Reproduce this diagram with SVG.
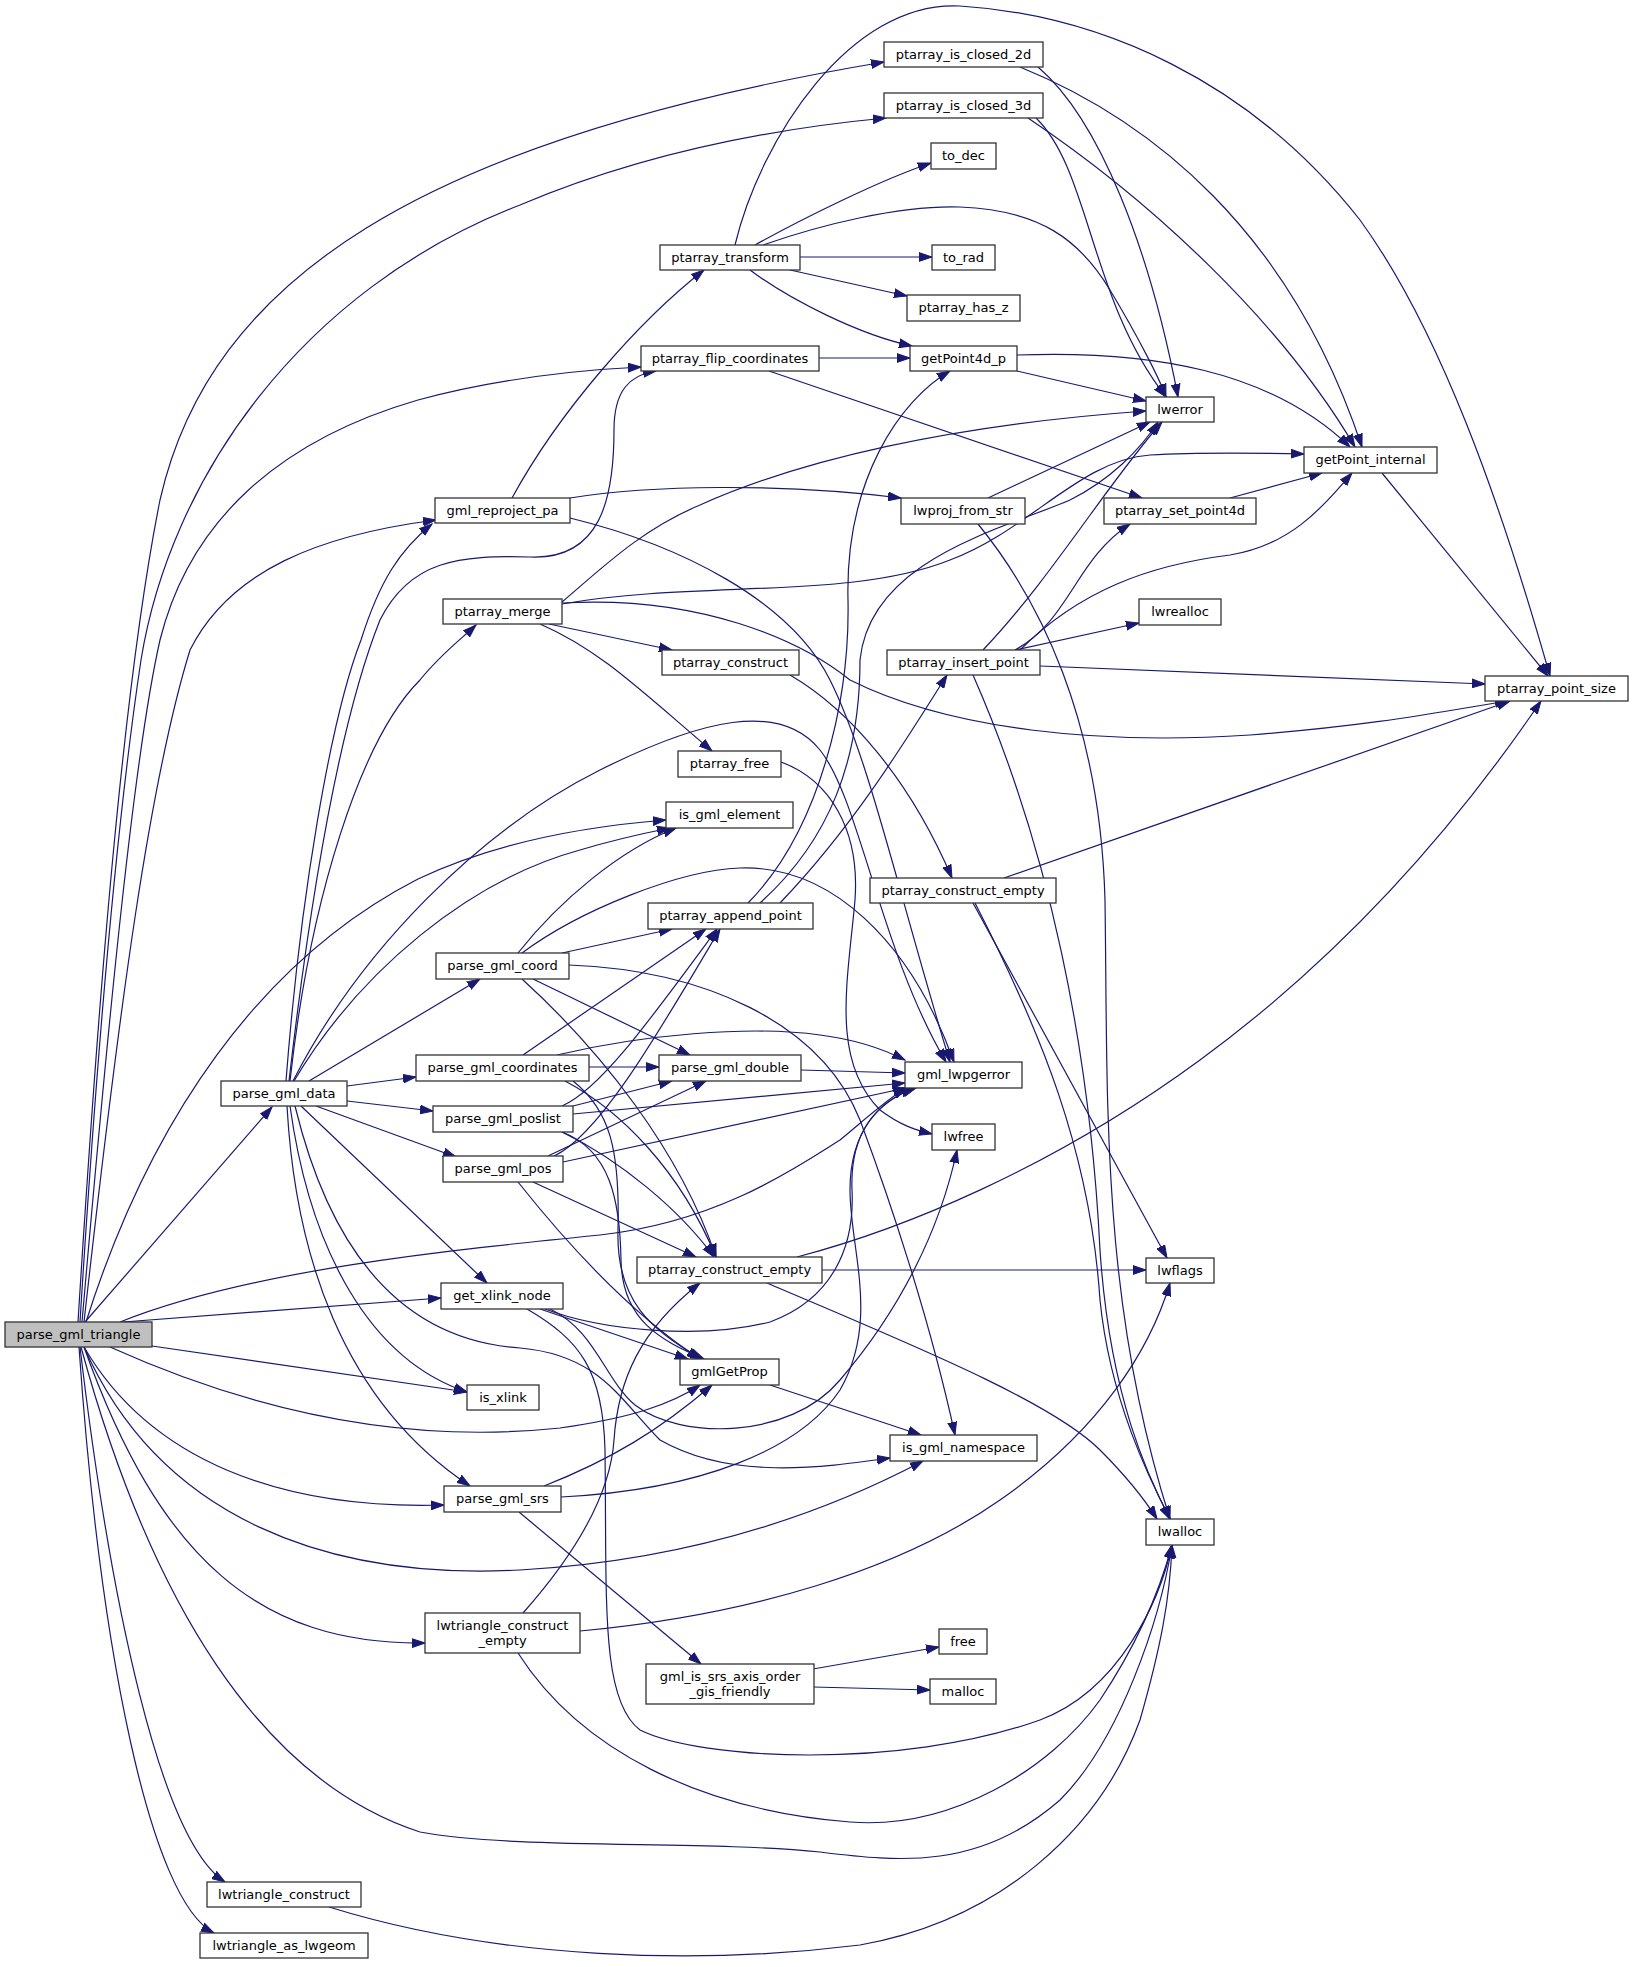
<svg xmlns="http://www.w3.org/2000/svg" width="1633" height="1967" viewBox="0 0 1633 1967">
<defs>
<style>
.e{fill:none;stroke:#191970;stroke-width:1.2;marker-end:url(#ah)}
.n rect{fill:#ffffff;stroke:#333333;stroke-width:1.3}
.n text{font-family:"DejaVu Sans","Liberation Sans",sans-serif;font-size:13px;fill:#000000;text-anchor:middle}
#n_root rect{fill:#bfbfbf}
</style>
<marker id="ah" markerUnits="userSpaceOnUse" markerWidth="14" markerHeight="10" viewBox="0 0 14 10" refX="13" refY="5" orient="auto"><path d="M0,0.6 L13,5 L0,9.4 z" fill="#191970" stroke="#191970" stroke-width="1"/></marker>
</defs>
<rect x="0" y="0" width="1633" height="1967" fill="#ffffff"/>
<g id="edges">
<path class="e" d="M78,1322 C95,1050 120,700 160,500 C210,280 420,140 884,62"/>
<path class="e" d="M80,1322 C100,1000 120,800 141,660 C170,480 300,290 520,205 C650,150 780,128 886,118"/>
<path class="e" d="M82,1322 C110,1000 135,750 160,640 C190,520 280,440 418,400 C500,378 580,370 641,367"/>
<path class="e" d="M84,1322 C120,1000 150,780 190,650 C230,570 320,535 436,520"/>
<path class="e" d="M86,1322 C150,1120 260,960 418,879 C500,840 590,826 666,820"/>
<path class="e" d="M85,1322 L272,1107"/>
<path class="e" d="M120,1322 C250,1270 450,1250 600,1235 C720,1222 800,1165 840,1140 C870,1115 890,1097 906,1088"/>
<path class="e" d="M123,1322 L441,1298"/>
<path class="e" d="M152,1346 L467,1392"/>
<path class="e" d="M110,1347 C250,1410 400,1445 560,1428 C630,1418 670,1405 700,1385"/>
<path class="e" d="M84,1347 C150,1460 280,1510 444,1505"/>
<path class="e" d="M84,1347 C160,1520 330,1580 520,1570 C700,1560 830,1510 923,1461"/>
<path class="e" d="M84,1347 C160,1560 260,1645 425,1643"/>
<path class="e" d="M81,1347 C150,1600 260,1780 420,1832 C520,1850 700,1840 820,1852 C900,1862 980,1870 1060,1800 C1120,1740 1160,1620 1172,1545"/>
<path class="e" d="M80,1347 C110,1600 160,1840 225,1882"/>
<path class="e" d="M79,1347 C100,1650 150,1900 214,1933"/>
<path class="e" d="M286,1081 C300,900 330,720 361,640 C380,580 400,550 432,524"/>
<path class="e" d="M289,1081 C310,900 340,720 380,620 C410,560 460,555 530,557 C600,560 614,500 614,430 C614,390 630,375 656,371"/>
<path class="e" d="M290,1081 C310,900 360,740 420,680 C440,655 460,640 476,625"/>
<path class="e" d="M293,1081 C360,950 480,830 600,770 C700,720 780,700 820,750 C860,800 880,950 946,1062"/>
<path class="e" d="M294,1081 C360,970 470,880 580,850 C620,838 650,832 670,828"/>
<path class="e" d="M309,1081 L480,979"/>
<path class="e" d="M347,1086 L416,1077"/>
<path class="e" d="M347,1101 L433,1111"/>
<path class="e" d="M316,1106 L456,1157"/>
<path class="e" d="M301,1106 L487,1283"/>
<path class="e" d="M290,1106 C310,1250 370,1360 467,1392"/>
<path class="e" d="M287,1106 C295,1250 340,1400 470,1486"/>
<path class="e" d="M295,1106 C330,1250 400,1340 520,1348 C600,1355 620,1400 660,1440 C730,1480 820,1468 890,1458"/>
<path class="e" d="M512,498 C560,410 640,320 704,270"/>
<path class="e" d="M570,498 C650,485 780,483 901,498"/>
<path class="e" d="M570,518 C680,545 790,600 830,680 C870,760 900,900 950,1062"/>
<path class="e" d="M735,245 C760,140 850,0 960,6 C1100,15 1250,80 1360,220 C1440,330 1500,500 1550,676"/>
<path class="e" d="M755,245 C800,220 880,180 931,163"/>
<path class="e" d="M763,245 C820,225 900,205 960,207 C1040,210 1080,240 1110,290 C1140,340 1160,380 1166,397"/>
<path class="e" d="M800,257 L932,257"/>
<path class="e" d="M790,270 L907,296"/>
<path class="e" d="M750,270 C790,300 860,335 912,346"/>
<path class="e" d="M819,358 L910,358"/>
<path class="e" d="M769,371 L1142,498"/>
<path class="e" d="M1038,67 C1100,120 1150,250 1178,397"/>
<path class="e" d="M1020,67 C1150,120 1290,230 1362,447"/>
<path class="e" d="M1036,118 C1090,170 1090,300 1166,397"/>
<path class="e" d="M1028,118 C1150,200 1280,320 1355,447"/>
<path class="e" d="M1017,371 L1146,401"/>
<path class="e" d="M1017,355 C1150,350 1270,370 1350,447"/>
<path class="e" d="M988,498 L1150,422"/>
<path class="e" d="M978,524 C1040,600 1100,720 1105,900 C1108,1100 1100,1300 1170,1519"/>
<path class="e" d="M1230,498 L1322,473"/>
<path class="e" d="M1382,473 L1548,676"/>
<path class="e" d="M562,602 C600,570 640,530 700,505 C800,460 950,425 1146,411"/>
<path class="e" d="M562,604 C700,580 850,600 950,560 C1030,530 1080,460 1150,455 C1200,452 1260,453 1304,454"/>
<path class="e" d="M562,603 C700,595 800,640 850,680 C950,730 1100,745 1250,735 C1380,725 1450,710 1508,701"/>
<path class="e" d="M549,624 L672,650"/>
<path class="e" d="M540,624 C600,650 640,690 712,751"/>
<path class="e" d="M790,675 C850,710 910,780 952,878"/>
<path class="e" d="M781,762 C830,780 860,830 855,900 C848,980 830,1060 880,1110 C900,1125 915,1130 932,1134"/>
<path class="e" d="M983,650 C1050,580 1110,480 1162,422"/>
<path class="e" d="M1020,650 C1080,590 1150,565 1230,555 C1290,545 1320,510 1352,473"/>
<path class="e" d="M1015,650 C1070,620 1075,560 1130,524"/>
<path class="e" d="M1015,650 L1139,623"/>
<path class="e" d="M1040,666 L1485,684"/>
<path class="e" d="M973,675 C1050,850 1090,1050 1100,1250 C1110,1400 1150,1480 1170,1519"/>
<path class="e" d="M748,903 C820,830 850,700 848,600 C845,480 900,400 950,371"/>
<path class="e" d="M760,903 C830,840 860,760 860,660 C870,560 1000,530 1070,500 C1110,480 1140,450 1158,422"/>
<path class="e" d="M780,903 C850,830 900,750 947,675"/>
<path class="e" d="M518,953 C560,900 620,850 676,828"/>
<path class="e" d="M522,953 C580,910 680,870 740,868 C830,865 910,940 954,1062"/>
<path class="e" d="M562,953 L672,929"/>
<path class="e" d="M569,965 C700,970 820,1020 860,1120 C890,1200 930,1320 955,1435"/>
<path class="e" d="M533,979 L690,1055"/>
<path class="e" d="M522,979 C600,1050 680,1150 716,1257"/>
<path class="e" d="M523,1055 L706,929"/>
<path class="e" d="M557,1055 C640,1035 750,1025 820,1035 C860,1040 885,1050 905,1060"/>
<path class="e" d="M589,1067 L659,1067"/>
<path class="e" d="M565,1081 C620,1110 680,1170 716,1257"/>
<path class="e" d="M573,1081 C610,1110 620,1150 618,1230 C616,1300 650,1330 702,1359"/>
<path class="e" d="M562,1106 C600,1090 650,1020 717,929"/>
<path class="e" d="M573,1106 L672,1081"/>
<path class="e" d="M573,1114 L905,1083"/>
<path class="e" d="M562,1132 C620,1160 680,1210 714,1257"/>
<path class="e" d="M562,1132 C610,1150 620,1200 621,1260 C622,1320 660,1340 704,1359"/>
<path class="e" d="M554,1156 C600,1135 660,1030 720,929"/>
<path class="e" d="M548,1156 L706,1081"/>
<path class="e" d="M563,1162 L906,1088"/>
<path class="e" d="M533,1182 L696,1257"/>
<path class="e" d="M518,1182 C580,1260 640,1320 700,1359"/>
<path class="e" d="M801,1070 L905,1073"/>
<path class="e" d="M797,1257 C900,1230 1050,1170 1200,1060 C1350,950 1460,820 1541,701"/>
<path class="e" d="M822,1270 L1146,1270"/>
<path class="e" d="M767,1283 C900,1340 1050,1400 1100,1450 C1130,1480 1145,1500 1157,1519"/>
<path class="e" d="M1004,878 L1510,701"/>
<path class="e" d="M973,903 L1167,1258"/>
<path class="e" d="M975,903 C1040,1030 1090,1150 1100,1300 C1110,1400 1150,1480 1170,1519"/>
<path class="e" d="M540,1309 L688,1359"/>
<path class="e" d="M545,1309 C600,1330 700,1340 770,1322 C830,1300 855,1250 852,1190 C850,1140 870,1105 914,1088"/>
<path class="e" d="M550,1309 C595,1330 605,1380 635,1405 C680,1440 790,1440 840,1380 C900,1310 940,1230 957,1150"/>
<path class="e" d="M527,1309 C580,1340 603,1370 605,1450 C607,1600 600,1700 640,1730 C700,1760 900,1770 1040,1720 C1120,1690 1160,1600 1172,1545"/>
<path class="e" d="M770,1385 L921,1435"/>
<path class="e" d="M544,1486 C610,1460 660,1430 712,1385"/>
<path class="e" d="M561,1497 C700,1490 800,1450 840,1390 C880,1320 850,1250 850,1190 C850,1130 880,1100 916,1088"/>
<path class="e" d="M519,1512 L701,1664"/>
<path class="e" d="M813,1669 L939,1647"/>
<path class="e" d="M813,1687 L930,1690"/>
<path class="e" d="M523,1613 C570,1560 610,1500 614,1440 C618,1380 640,1330 700,1283"/>
<path class="e" d="M580,1631 C750,1615 900,1570 1000,1500 C1100,1430 1150,1350 1170,1283"/>
<path class="e" d="M518,1653 C580,1750 700,1810 850,1822 C950,1830 1050,1770 1100,1700 C1140,1640 1160,1590 1172,1545"/>
<path class="e" d="M329,1907 C500,1960 700,1965 860,1945 C1000,1920 1100,1830 1140,1720 C1160,1650 1170,1600 1172,1545"/>
</g>
<g id="n_root" class="n"><rect x="5" y="1322" width="147" height="25"/><text x="78.5" y="1339">parse_gml_triangle</text></g>
<g id="n_closed2d" class="n"><rect x="884" y="42" width="159" height="25"/><text x="963.5" y="59">ptarray_is_closed_2d</text></g>
<g id="n_closed3d" class="n"><rect x="884" y="93" width="159" height="25"/><text x="963.5" y="110">ptarray_is_closed_3d</text></g>
<g id="n_todec" class="n"><rect x="931" y="143" width="65" height="26"/><text x="963.5" y="160">to_dec</text></g>
<g id="n_transform" class="n"><rect x="660" y="245" width="140" height="25"/><text x="730" y="262">ptarray_transform</text></g>
<g id="n_torad" class="n"><rect x="932" y="245" width="63" height="25"/><text x="963.5" y="262">to_rad</text></g>
<g id="n_hasz" class="n"><rect x="907" y="295" width="113" height="26"/><text x="963.5" y="312">ptarray_has_z</text></g>
<g id="n_flip" class="n"><rect x="641" y="346" width="178" height="25"/><text x="730" y="363">ptarray_flip_coordinates</text></g>
<g id="n_getp4d" class="n"><rect x="910" y="346" width="107" height="25"/><text x="963.5" y="363">getPoint4d_p</text></g>
<g id="n_lwerror" class="n"><rect x="1146" y="397" width="68" height="25"/><text x="1180" y="414">lwerror</text></g>
<g id="n_getpint" class="n"><rect x="1304" y="447" width="133" height="26"/><text x="1370.5" y="464">getPoint_internal</text></g>
<g id="n_reproj" class="n"><rect x="435" y="498" width="135" height="25"/><text x="502.5" y="515">gml_reproject_pa</text></g>
<g id="n_lwproj" class="n"><rect x="901" y="498" width="124" height="26"/><text x="963" y="515">lwproj_from_str</text></g>
<g id="n_setp4d" class="n"><rect x="1104" y="498" width="152" height="26"/><text x="1180" y="515">ptarray_set_point4d</text></g>
<g id="n_merge" class="n"><rect x="443" y="599" width="119" height="25"/><text x="502.5" y="616">ptarray_merge</text></g>
<g id="n_lwrealloc" class="n"><rect x="1139" y="599" width="82" height="26"/><text x="1180" y="616">lwrealloc</text></g>
<g id="n_construct" class="n"><rect x="662" y="650" width="137" height="25"/><text x="730.5" y="667">ptarray_construct</text></g>
<g id="n_insert" class="n"><rect x="887" y="650" width="153" height="25"/><text x="963.5" y="667">ptarray_insert_point</text></g>
<g id="n_ptsize" class="n"><rect x="1485" y="676" width="143" height="25"/><text x="1556.5" y="693">ptarray_point_size</text></g>
<g id="n_freepa" class="n"><rect x="678" y="751" width="103" height="26"/><text x="729.5" y="768">ptarray_free</text></g>
<g id="n_isgmlel" class="n"><rect x="666" y="802" width="127" height="26"/><text x="729.5" y="819">is_gml_element</text></g>
<g id="n_cempty2" class="n"><rect x="870" y="878" width="186" height="25"/><text x="963" y="895">ptarray_construct_empty</text></g>
<g id="n_append" class="n"><rect x="648" y="903" width="165" height="26"/><text x="730.5" y="920">ptarray_append_point</text></g>
<g id="n_coord" class="n"><rect x="436" y="953" width="133" height="26"/><text x="502.5" y="970">parse_gml_coord</text></g>
<g id="n_coords" class="n"><rect x="416" y="1055" width="173" height="26"/><text x="502.5" y="1072">parse_gml_coordinates</text></g>
<g id="n_double" class="n"><rect x="659" y="1055" width="142" height="26"/><text x="730" y="1072">parse_gml_double</text></g>
<g id="n_lwpgerror" class="n"><rect x="905" y="1062" width="117" height="26"/><text x="963.5" y="1079">gml_lwpgerror</text></g>
<g id="n_data" class="n"><rect x="221" y="1081" width="126" height="25"/><text x="284" y="1098">parse_gml_data</text></g>
<g id="n_poslist" class="n"><rect x="433" y="1106" width="140" height="26"/><text x="503" y="1123">parse_gml_poslist</text></g>
<g id="n_lwfree" class="n"><rect x="932" y="1124" width="63" height="26"/><text x="963.5" y="1141">lwfree</text></g>
<g id="n_pos" class="n"><rect x="443" y="1156" width="120" height="26"/><text x="503" y="1173">parse_gml_pos</text></g>
<g id="n_cempty1" class="n"><rect x="637" y="1257" width="185" height="26"/><text x="729.5" y="1274">ptarray_construct_empty</text></g>
<g id="n_lwflags" class="n"><rect x="1146" y="1258" width="68" height="25"/><text x="1180" y="1275">lwflags</text></g>
<g id="n_xlink" class="n"><rect x="441" y="1283" width="122" height="26"/><text x="502" y="1300">get_xlink_node</text></g>
<g id="n_gmlgetprop" class="n"><rect x="680" y="1359" width="99" height="26"/><text x="729.5" y="1376">gmlGetProp</text></g>
<g id="n_isxlink" class="n"><rect x="467" y="1385" width="72" height="25"/><text x="503" y="1402">is_xlink</text></g>
<g id="n_isgmlns" class="n"><rect x="890" y="1435" width="147" height="26"/><text x="963.5" y="1452">is_gml_namespace</text></g>
<g id="n_srs" class="n"><rect x="444" y="1486" width="117" height="26"/><text x="502.5" y="1503">parse_gml_srs</text></g>
<g id="n_lwalloc" class="n"><rect x="1146" y="1519" width="68" height="26"/><text x="1180" y="1536">lwalloc</text></g>
<g id="n_ltce" class="n"><rect x="425" y="1613" width="155" height="40"/><text x="502.5" y="1629.5">lwtriangle_construct</text><text x="502.5" y="1644.5">_empty</text></g>
<g id="n_free" class="n"><rect x="939" y="1629" width="48" height="25"/><text x="963" y="1646">free</text></g>
<g id="n_gisfriendly" class="n"><rect x="646" y="1664" width="168" height="40"/><text x="730" y="1680.5">gml_is_srs_axis_order</text><text x="730" y="1695.5">_gis_friendly</text></g>
<g id="n_malloc" class="n"><rect x="930" y="1679" width="66" height="25"/><text x="963" y="1696">malloc</text></g>
<g id="n_ltc" class="n"><rect x="207" y="1882" width="154" height="25"/><text x="284" y="1899">lwtriangle_construct</text></g>
<g id="n_ltas" class="n"><rect x="200" y="1933" width="168" height="25"/><text x="284" y="1950">lwtriangle_as_lwgeom</text></g>
</svg>
